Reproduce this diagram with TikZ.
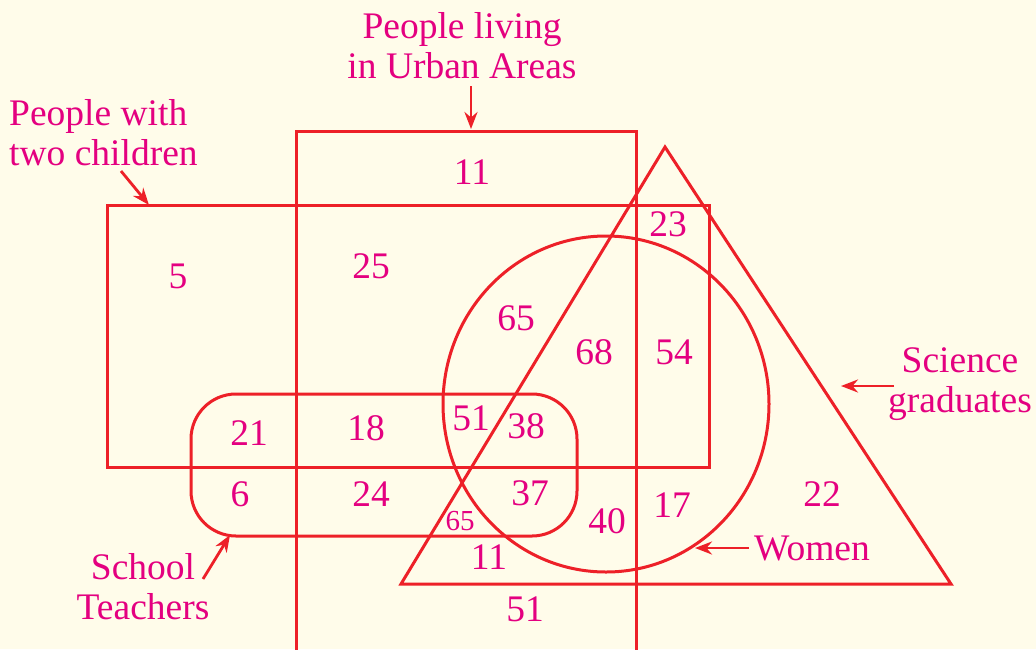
\documentclass[tikz,border=0pt]{standalone}
\usepackage{fontspec}
\setmainfont{Liberation Serif}
\usetikzlibrary{arrows.meta}
\definecolor{vennred}{RGB}{237,32,40}
\definecolor{vennpink}{RGB}{228,0,128}
\definecolor{vennbg}{RGB}{255,252,234}

\begin{document}
\begin{tikzpicture}[x=1pt,y=-1pt,font=\fontsize{37.5}{40}\selectfont,
  setline/.style={vennred,line width=3pt},
  pointer/.style={vennred,line width=2.8pt,-{Stealth[length=17pt,width=13pt]}},
  lab/.style={text=vennpink,inner sep=0pt}]
\fill[vennbg] (0,0) rectangle (1036,649);
\useasboundingbox (0,0) rectangle (1036,649);
% the five sets
\draw[setline] (296,655) |- (636,131) -- (636,655);
\draw[setline] (107,205) rectangle (709,467);
\draw[setline] (665,147) -- (951,584) -- (401,584) -- cycle;
\draw[setline] (606,404) ellipse [x radius=163pt,y radius=168pt];
\draw[setline,rounded corners=45pt] (191,394) rectangle (577,536);
% region counts
\foreach \x/\y/\n [count=\i] in {472/172/11, 178/276/5, 371/266/25, 668/224/23,
  516/318/65, 594/352/68, 674/352/54, 249/433/21, 366/428/18, 471/418/51,
  526/426/38, 240/494/6, 371/494/24, 530/493/37, 607/521/40, 672/505/17,
  822/494/22, 489/557/11, 525/609/51}
  \node[lab] (n\i) at (\x,\y) {\n};
\node[lab,font=\fontsize{29}{30}\selectfont] (nsmall) at (460,521) {65};
% set names
\node[lab,align=center] (urban) at (462,46) {People living\\in Urban Areas};
\node[lab,align=left,anchor=west] (children) at (9,133) {People with\\two children};
\node[lab,align=center] (science) at (960,384) {Science\\graduates};
\node[lab] (women) at (812,548) {Women};
\node[lab,align=center] (teachers) at (143,587) {School\\Teachers};
\coordinate (urbanA) at (471,86);   \coordinate (urbanB) at (471,129);
\coordinate (childA) at (121,171);  \coordinate (childB) at (149,205);
\coordinate (sciA) at (894,386);    \coordinate (sciB) at (841,386);
\coordinate (womA) at (749,548);    \coordinate (womB) at (695,548);
\coordinate (teachA) at (203,579);  \coordinate (teachB) at (230,535);
\draw[pointer] (urbanA) -- (urbanB);
\draw[pointer] (childA) -- (childB);
\draw[pointer] (sciA) -- (sciB);
\draw[pointer] (womA) -- (womB);
\draw[pointer] (teachA) -- (teachB);
\end{tikzpicture}
\end{document}
